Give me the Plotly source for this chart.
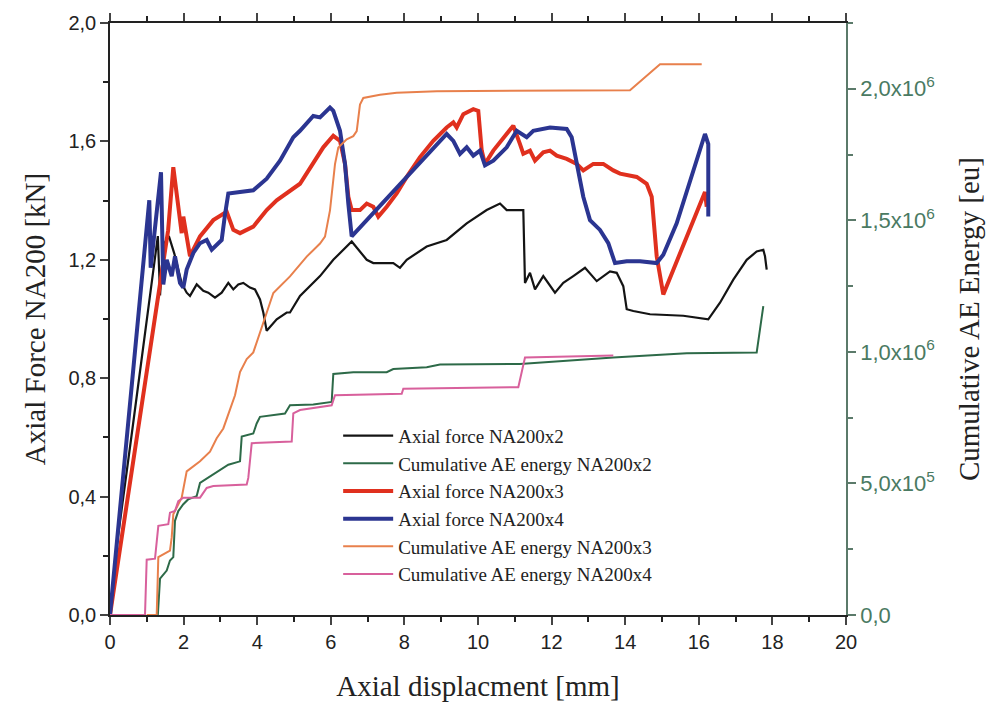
import plotly.graph_objects as go

# ---------------- data ----------------
# Axial force NA200x2 [kN]
x_f2 = [0, 0.18, 0.6, 1.0, 1.3, 1.36, 1.45, 1.6, 1.75, 1.95, 2.084, 2.174, 2.356, 2.535, 2.671, 2.853,
        3.035, 3.215, 3.351, 3.486, 3.622, 3.804, 3.940, 4.076, 4.166, 4.258, 4.530, 4.802,
        4.891, 5.163, 5.707, 6.068, 6.432, 6.568, 6.976, 7.155, 7.698, 7.880, 8.063, 8.606,
        9.149, 9.693, 10.236, 10.598, 10.780, 11.231, 11.277, 11.413, 11.549, 11.774, 12.092,
        12.318, 12.590, 12.908, 13.226, 13.587, 13.769, 13.948, 14.041, 14.220, 14.674, 15.579,
        16.258, 16.576, 16.938, 17.302, 17.573, 17.753, 17.799, 17.845]
y_f2 = [0, 0.23, 0.62, 1.0, 1.28, 1.08, 1.25, 1.28, 1.22, 1.12, 1.089, 1.078, 1.117, 1.095, 1.089, 1.072,
        1.089, 1.122, 1.100, 1.117, 1.122, 1.106, 1.100, 1.066, 1.022, 0.960, 0.999, 1.022,
        1.022, 1.078, 1.145, 1.200, 1.245, 1.262, 1.200, 1.189, 1.189, 1.173, 1.200, 1.245,
        1.267, 1.323, 1.368, 1.390, 1.368, 1.368, 1.122, 1.156, 1.100, 1.145, 1.089,
        1.122, 1.145, 1.173, 1.128, 1.161, 1.156, 1.111, 1.033, 1.027, 1.016, 1.011,
        0.999, 1.055, 1.133, 1.200, 1.228, 1.234, 1.212, 1.167]

# Axial force NA200x3 [kN]
x_f3 = [0, 1.58, 1.720, 1.948, 1.992, 2.174, 2.446, 2.807, 3.171, 3.351, 3.533, 3.894,
        4.258, 4.530, 5.163, 5.524, 5.796, 6.068, 6.250, 6.386, 6.476, 6.568, 6.793, 6.976,
        7.155, 7.291, 7.519, 7.791, 8.063, 8.424, 8.785, 9.149, 9.329, 9.421, 9.601, 9.872,
        10.008, 10.101, 10.190, 10.416, 10.780, 10.959, 11.141, 11.231, 11.413, 11.549, 11.774,
        11.957, 12.139, 12.410, 12.682, 12.861, 13.133, 13.405, 13.677, 13.859, 14.313, 14.584,
        14.720, 14.810, 14.856, 15.035, 15.307, 15.671, 16.033, 16.168, 16.215]
y_f3 = [0, 1.30, 1.513, 1.290, 1.346, 1.212, 1.279, 1.334, 1.362, 1.301, 1.290, 1.312,
        1.368, 1.401, 1.457, 1.524, 1.580, 1.619, 1.602, 1.524, 1.413, 1.368, 1.368, 1.390,
        1.379, 1.346, 1.379, 1.424, 1.480, 1.547, 1.602, 1.647, 1.664, 1.647, 1.692, 1.709,
        1.703, 1.569, 1.524, 1.569, 1.625, 1.653, 1.591, 1.558, 1.569, 1.535, 1.563,
        1.569, 1.552, 1.541, 1.524, 1.502, 1.524, 1.524, 1.502, 1.491, 1.480, 1.457,
        1.413, 1.301, 1.212, 1.083, 1.167, 1.279, 1.390, 1.429, 1.379]

# Axial force NA200x4 [kN]
x_f4 = [0, 1.068, 1.106, 1.386, 1.448, 1.541, 1.677, 1.766, 1.902, 1.992, 2.084, 2.264,
        2.446, 2.628, 2.764, 2.853, 3.035, 3.125, 3.215, 3.533, 3.894, 4.258, 4.620, 4.981,
        5.163, 5.524, 5.707, 5.978, 6.068, 6.250, 6.386, 6.476, 6.568, 9.149, 9.329, 9.511,
        9.693, 9.872, 10.054, 10.190, 10.416, 10.780, 11.052, 11.323, 11.503, 11.957, 12.410,
        12.546, 12.682, 12.861, 13.043, 13.315, 13.541, 13.723, 14.041, 14.402, 14.856, 15.035,
        15.399, 15.761, 16.033, 16.168, 16.258, 16.258]
y_f4 = [0, 1.401, 1.173, 1.496, 1.117, 1.200, 1.145, 1.212, 1.122, 1.106, 1.167, 1.223,
        1.256, 1.267, 1.234, 1.245, 1.267, 1.353, 1.424, 1.429, 1.435, 1.474, 1.535, 1.614,
        1.636, 1.686, 1.681, 1.714, 1.703, 1.636, 1.524, 1.390, 1.279, 1.625, 1.602, 1.558,
        1.580, 1.552, 1.569, 1.519, 1.535, 1.580, 1.636, 1.614, 1.636, 1.647, 1.642,
        1.614, 1.524, 1.413, 1.334, 1.301, 1.256, 1.189, 1.195, 1.195, 1.189, 1.217,
        1.323, 1.468, 1.569, 1.625, 1.591, 1.346]

# Cumulative AE energy NA200x2 [eu]
x_e2 = [1.30, 1.359, 1.541, 1.630, 1.720, 1.766, 1.856, 1.992, 2.128, 2.356, 2.446, 2.717, 2.989,
        3.215, 3.533, 3.579, 3.894, 3.986, 4.076, 4.438, 4.755, 4.891, 5.524, 6.024, 6.068,
        6.611, 7.519, 7.698, 8.606, 8.967, 11.141, 13.677, 15.671, 17.573, 17.753]
y_e2 = [0, 0.138e6, 0.169e6, 0.207e6, 0.220e6, 0.358e6, 0.395e6, 0.421e6, 0.440e6, 0.452e6,
        0.502e6, 0.527e6, 0.553e6, 0.571e6, 0.584e6, 0.678e6, 0.690e6, 0.728e6, 0.753e6,
        0.760e6, 0.766e6, 0.797e6, 0.800e6, 0.810e6, 0.916e6, 0.923e6, 0.923e6, 0.935e6,
        0.942e6, 0.952e6, 0.954e6, 0.979e6, 0.995e6, 0.998e6, 1.174e6]

# Cumulative AE energy NA200x3 [eu]
x_e3 = [0.997, 1.269, 1.313, 1.630, 1.677, 1.720, 1.856, 1.948, 2.084, 2.446, 2.717, 2.899, 3.079,
        3.261, 3.397, 3.533, 3.715, 3.894, 4.258, 4.438, 4.891, 5.345, 5.707, 5.842, 5.978,
        6.114, 6.204, 6.432, 6.611, 6.704, 6.793, 6.883, 7.337, 7.791, 8.878, 14.130, 14.946,
        16.079]
y_e3 = [0, 0, 0.220e6, 0.245e6, 0.295e6, 0.383e6, 0.421e6, 0.446e6, 0.546e6, 0.584e6, 0.621e6,
        0.672e6, 0.709e6, 0.785e6, 0.835e6, 0.923e6, 0.973e6, 0.998e6, 1.149e6, 1.224e6,
        1.287e6, 1.362e6, 1.412e6, 1.438e6, 1.538e6, 1.714e6, 1.777e6, 1.808e6, 1.820e6,
        1.839e6, 1.940e6, 1.965e6, 1.977e6, 1.985e6, 1.991e6, 1.994e6, 2.093e6, 2.093e6]

# Cumulative AE energy NA200x4 [eu]
x_e4 = [0, 0.951, 0.997, 1.223, 1.313, 1.584, 1.630, 1.766, 1.856, 1.992, 2.446, 2.628, 2.807,
        3.715, 3.758, 3.851, 4.938, 4.981, 5.163, 5.707, 6.024, 6.114, 7.927, 7.970, 11.095,
        11.277, 13.677]
y_e4 = [0, 0, 0.210e6, 0.214e6, 0.339e6, 0.345e6, 0.389e6, 0.395e6, 0.433e6, 0.446e6, 0.446e6,
        0.483e6, 0.490e6, 0.496e6, 0.521e6, 0.653e6, 0.659e6, 0.766e6, 0.779e6, 0.791e6,
        0.797e6, 0.835e6, 0.841e6, 0.860e6, 0.866e6, 0.979e6, 0.986e6]

x_ticks = list(range(0, 21, 2))
yl_ticks = [0.0, 0.4, 0.8, 1.2, 1.6, 2.0]
yl_text = ["0,0", "0,4", "0,8", "1,2", "1,6", "2,0"]
yr_ticks = [0, 0.5e6, 1.0e6, 1.5e6, 2.0e6]
yr_text = ["0,0", "5,0x10<sup>5</sup>", "1,0x10<sup>6</sup>", "1,5x10<sup>6</sup>", "2,0x10<sup>6</sup>"]

# ---------------- style ----------------
SANS = "Liberation Sans, Arial, sans-serif"
SERIF = "Liberation Serif, Times New Roman, serif"
GREENAX = "#5b7a6a"

fig = go.Figure()
series = [
    ("Axial force NA200x2", x_f2, y_f2, "y", "#141414", 2.2),
    ("Cumulative AE energy NA200x2", x_e2, y_e2, "y2", "#2d6a48", 2.0),
    ("Axial force NA200x3", x_f3, y_f3, "y", "#e0301e", 4.0),
    ("Axial force NA200x4", x_f4, y_f4, "y", "#2b3591", 4.0),
    ("Cumulative AE energy NA200x3", x_e3, y_e3, "y2", "#e8804c", 2.0),
    ("Cumulative AE energy NA200x4", x_e4, y_e4, "y2", "#d8609c", 2.0),
]
for i, (name, xs, ys, ya, col, w) in enumerate(series):
    fig.add_trace(go.Scatter(x=xs, y=ys, yaxis=ya, mode="lines", name=name,
                             legendgroup=f"g{i}",
                             line=dict(color=col, width=w)))

fig.update_layout(
    width=993, height=710,
    margin=dict(l=110, r=147, t=18, b=95),
    paper_bgcolor="white", plot_bgcolor="white",
    showlegend=True,
    legend=dict(x=0.31, y=0.335, xanchor="left", yanchor="top",
                bgcolor="rgba(0,0,0,0)", borderwidth=0,
                font=dict(family=SERIF, size=19, color="#222"),
                tracegroupgap=0, itemwidth=50),
    xaxis=dict(range=[0, 20], tickvals=x_ticks, ticks="outside", ticklen=8,
               tickwidth=1.5, showline=True, linecolor="#222", linewidth=1.5,
               mirror="ticks",
               showgrid=False, zeroline=False,
               tickfont=dict(family=SANS, size=20, color="#222"),
               minor=dict(ticks="outside", ticklen=5, dtick=1, tickcolor="#222", showgrid=False),
               title=dict(text="Axial displacment [mm]", font=dict(family=SERIF, size=29, color="#222"),
                          standoff=24)),
    yaxis=dict(range=[0, 2.0], tickvals=yl_ticks, ticktext=yl_text, ticks="outside", ticklen=8,
               tickwidth=1.5, showline=True, linecolor="#222", linewidth=1.5,
               showgrid=False, zeroline=False,
               tickfont=dict(family=SANS, size=20, color="#222"),
               minor=dict(ticks="outside", ticklen=5, dtick=0.2, tickcolor="#222", showgrid=False),
               title=dict(text="Axial Force NA200 [kN]", font=dict(family=SERIF, size=29, color="#222"),
                          standoff=14)),
    yaxis2=dict(range=[0, 2.25e6], overlaying="y", side="right", anchor="x",
                tickvals=yr_ticks, ticktext=yr_text, automargin=False,
                ticks="outside", ticklen=8, tickwidth=1.5, tickcolor=GREENAX,
                showline=True, linecolor=GREENAX, linewidth=1.5, showgrid=False, zeroline=False,
                tickfont=dict(family=SANS, size=22, color="#4a7a62"),
                minor=dict(ticks="outside", ticklen=5, dtick=0.25e6, tickcolor=GREENAX, showgrid=False),
                title=dict(text="Cumulative AE Energy [eu]", font=dict(family=SERIF, size=29, color="#222"),
                           standoff=25)),
)

fig.write_html("out.html")
